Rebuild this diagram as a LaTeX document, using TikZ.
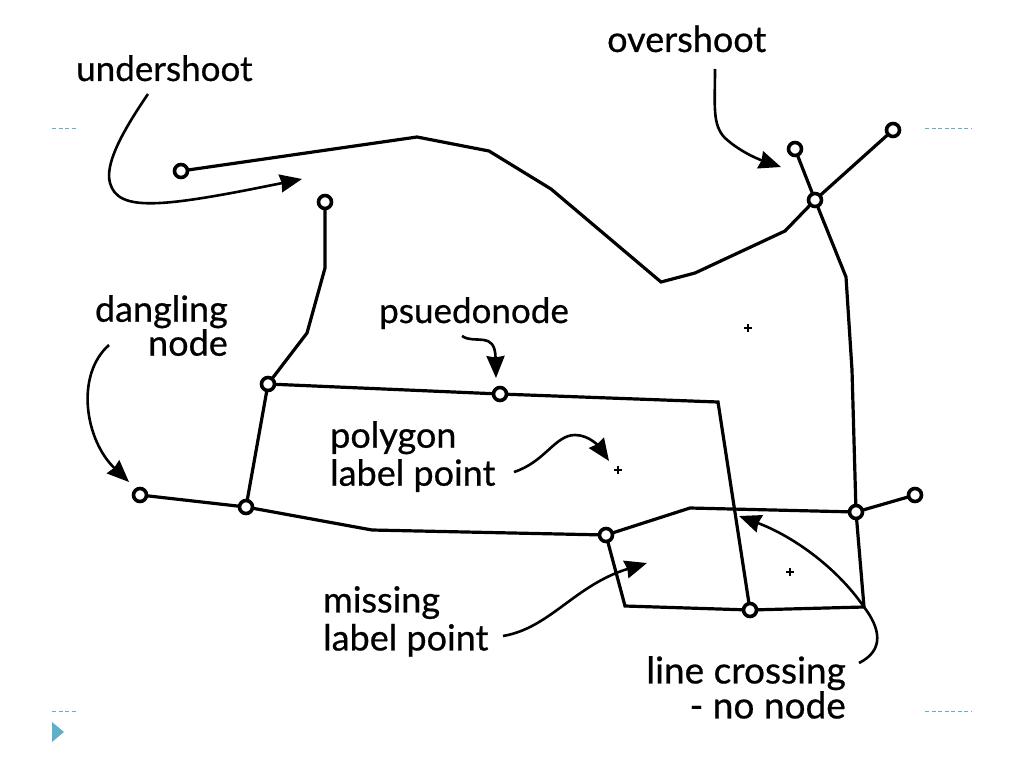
\documentclass[tikz,border=0pt]{standalone}
\usepackage{fontspec}
\setmainfont[FakeBold=0.6]{Lato}
\usetikzlibrary{arrows.meta}
\definecolor{decor}{HTML}{5FB0C8}
\tikzset{
  vert/.style={circle,draw=black,fill=white,line width=3.6pt,inner sep=0pt,minimum size=13pt},
  edge/.style={line width=3.2pt,line join=miter},
  lead/.style={line width=2.6pt,-{Stealth[length=22pt,width=18pt,inset=1.5pt]}},
  lab/.style={font=\fontsize{36}{38}\selectfont,inner sep=0pt,align=left,text=black},
  rlab/.style={lab,align=right},
  tight/.style={font=\fontsize{36}{34}\selectfont},
  snug/.style={font=\fontsize{35}{38}\selectfont},
  wide/.style={font=\fontsize{37}{33.5}\selectfont},
  tick/.style={line width=1.8pt},
  rule/.style={decor,line width=.7pt,dash pattern=on 4pt off 2.5pt}
}
\begin{document}
\begin{tikzpicture}[x=1pt,y=-1pt]
\useasboundingbox (0,0) rectangle (1024,768);
% decoration
\draw[rule] (52,128) -- (76,128);
\draw[rule] (925,128) -- (972,128);
\draw[rule] (52,711) -- (76,711);
\draw[rule] (925,711) -- (972,711);
\fill[decor] (52,722) -- (64,732) -- (52,742) -- cycle;
% bends
\foreach \n/\p in {a1/{417,137},a2/{489,151},a3/{551,189},a4/{661,282},a5/{695,273},a6/{785,231},
  b1/{846,277},b2/{852,370},b3/{864,607},b4/{625,606},
  c1/{325,268},c2/{307,333},d1/{718,402},e1/{372,530},e2/{690,508}}
  \coordinate (\n) at (\p);
% edges (under the vertices)
\coordinate (pU) at (181,171); \coordinate (pO) at (795,149); \coordinate (pT) at (893,130);
\coordinate (pX) at (815,200); \coordinate (pV) at (325,202); \coordinate (pJ) at (268,384);
\coordinate (pP) at (500,394); \coordinate (pD) at (140,495); \coordinate (pK) at (246,507);
\coordinate (pM) at (606,535); \coordinate (pR) at (856,512); \coordinate (pE) at (915,495);
\coordinate (pB) at (750,610);
\draw[edge] (pU) -- (a1) -- (a2) -- (a3) -- (a4) -- (a5) -- (a6) -- (pX);
\draw[edge] (pO) -- (pX) -- (b1) -- (b2) -- (pR) -- (b3) -- (pB) -- (b4) -- (pM);
\draw[edge] (pT) -- (pX);
\draw[edge] (pV) -- (c1) -- (c2) -- (pJ) -- (pK);
\draw[edge] (pJ) -- (pP) -- (d1) -- (pB);
\draw[edge] (pD) -- (pK) -- (e1) -- (pM) -- (e2) -- (pR) -- (pE);
% vertices
\foreach \n/\p in {vU/pU,vO/pO,vT/pT,vX/pX,vV/pV,vJ/pJ,vP/pP,vD/pD,vK/pK,vM/pM,vR/pR,vE/pE,vB/pB}
  \node[vert] (\n) at (\p) {};
% label points
\foreach \p in {{748,328},{618,470},{790,572}}{
  \draw[tick] (\p) ++(-4,0) -- ++(8,0);
  \draw[tick] (\p) ++(0,-4) -- ++(0,8);
}
% texts
\node[lab,snug,anchor=base west] (tU) at (76,81) {undershoot};
\node[lab,anchor=base west] (tO) at (607,52) {overshoot};
\node[rlab,tight,anchor=north east] (tD) at (228,295) {dangling\\node};
\node[lab,snug,anchor=base west] (tS) at (379,323) {psuedonode};
\node[lab,anchor=north west] (tG) at (330,421) {polygon\\label point};
\node[lab,anchor=north west] (tM) at (323,586) {missing\\label point};
\node[rlab,wide,anchor=north east] (tL) at (846,656) {line crossing\\- no node};
% leaders
\coordinate (sU) at (148,94);  \coordinate (eU) at (302,179);
\coordinate (sO) at (715,69);  \coordinate (eO) at (781,167);
\coordinate (sD) at (109,345); \coordinate (eD) at (129,482);
\coordinate (sS) at (462,336); \coordinate (eS) at (496,378);
\coordinate (sG) at (514,472); \coordinate (eG) at (609,461);
\coordinate (sM) at (503,636); \coordinate (eM) at (647,563);
\coordinate (sL) at (859,663); \coordinate (eL) at (739,516);
\draw[lead] (sU) .. controls (120,135) and (105,165) .. (110,183) .. controls (118,212) and (160,208) .. (eU);
\draw[lead] (sO) .. controls (715,105) and (712,125) .. (725,138) .. controls (738,150) and (755,158) .. (eO);
\draw[lead] (sD) .. controls (75,375) and (85,440) .. (eD);
\draw[lead] (sS) .. controls (475,345) and (495,330) .. (eS);
\draw[lead] (sG) .. controls (545,462) and (555,435) .. (575,435) .. controls (590,435) and (600,448) .. (eG);
\draw[lead] (sM) .. controls (550,628) and (575,585) .. (eM);
\draw[lead] (sL) .. controls (885,650) and (880,628) .. (864,607) .. controls (835,565) and (790,535) .. (eL);
\end{tikzpicture}
\end{document}
